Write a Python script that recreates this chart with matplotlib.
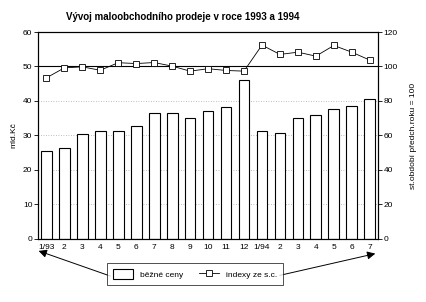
import matplotlib
matplotlib.use("Agg")
import matplotlib.pyplot as plt
import numpy as np

plt.rcParams['font.family'] = ['Liberation Sans', 'DejaVu Sans']

months = ["1/93", "2", "3", "4", "5", "6", "7", "8", "9", "10", "11", "12",
          "1/94", "2", "3", "4", "5", "6", "7"]
current_prices = [25.5, 26.5, 30.3, 31.4, 31.4, 32.8, 36.4, 36.4, 35.1, 37.0, 38.2, 46.1,
                  31.3, 30.8, 35.1, 35.9, 37.8, 38.4, 40.6]
index_values = [93.4, 99.2, 99.8, 97.8, 102.2, 101.7, 102.3, 100.2, 97.3, 98.7, 97.7, 97.3,
                112.4, 107.0, 108.3, 106.0, 112.2, 108.3, 103.7]
left_ticks = [0, 10, 20, 30, 40, 50, 60]
right_ticks = [0, 20, 40, 60, 80, 100, 120]

fig = plt.figure(figsize=(4.26, 3.02), dpi=100)
ax = fig.add_axes([0.089, 0.209, 0.798, 0.685])
x = np.arange(len(months))

for yv in [10, 20, 30, 40]:
    ax.axhline(yv, color='#aaaaaa', lw=0.6, ls=(0, (1, 2)), zorder=0)
ax.axhline(50, color='black', lw=0.8, zorder=1)

bars = ax.bar(x, current_prices, width=0.6, color='white', edgecolor='black', lw=0.8, zorder=2,
              label='běžné ceny')
ax.set_xlim(-0.47, 18.45)
ax.set_ylim(0, 60)
ax.set_yticks(left_ticks)
ax.set_xticks(x)
ax.set_xticklabels(months)
ax.tick_params(axis='x', length=0, labelsize=6, pad=4)
ax.tick_params(axis='y', labelsize=6, length=3, width=0.6, pad=1)
ax.set_ylabel("mld.Kč", fontsize=6, labelpad=4)
for s in ax.spines.values():
    s.set_linewidth(0.8)

ax2 = ax.twinx()
line, = ax2.plot(x, index_values, color='black', lw=0.6, marker='s', markersize=5,
                 markerfacecolor='white', markeredgecolor='black', markeredgewidth=0.6,
                 label='indexy ze s.c.', zorder=3)
ax2.set_ylim(0, 120)
ax2.set_yticks(right_ticks)
ax2.tick_params(axis='y', labelsize=6, length=3, width=0.6, pad=1)
ax2.set_ylabel("st.období předch.roku = 100", fontsize=6, labelpad=9)
ax2.yaxis.label.set_rotation(90)

fig.text(0.428, 0.945, "Vývoj maloobchodního prodeje v roce 1993 a 1994",
         ha='center', va='center', fontsize=7, fontweight='bold')

leg = fig.legend(handles=[bars, line], labels=['běžné ceny', 'indexy ze s.c.'],
                 loc='center', bbox_to_anchor=(0.458, 0.093), ncol=2, fontsize=6,
                 frameon=True, fancybox=False, edgecolor='black', handlelength=2.4,
                 handleheight=1.6, columnspacing=2.0, borderpad=0.7)
leg.get_frame().set_linewidth(0.6)

fig.add_artist(matplotlib.patches.FancyArrowPatch(
    (113/426, 1-277/302), (36/426, 1-250/302), transform=fig.transFigure,
    arrowstyle='-|>', mutation_scale=12, lw=0.7, color='black'))
fig.add_artist(matplotlib.patches.FancyArrowPatch(
    (277/426, 1-276/302), (378/426, 1-253/302), transform=fig.transFigure,
    arrowstyle='-|>', mutation_scale=12, lw=0.7, color='black'))

fig.savefig("out.png", dpi=100)
